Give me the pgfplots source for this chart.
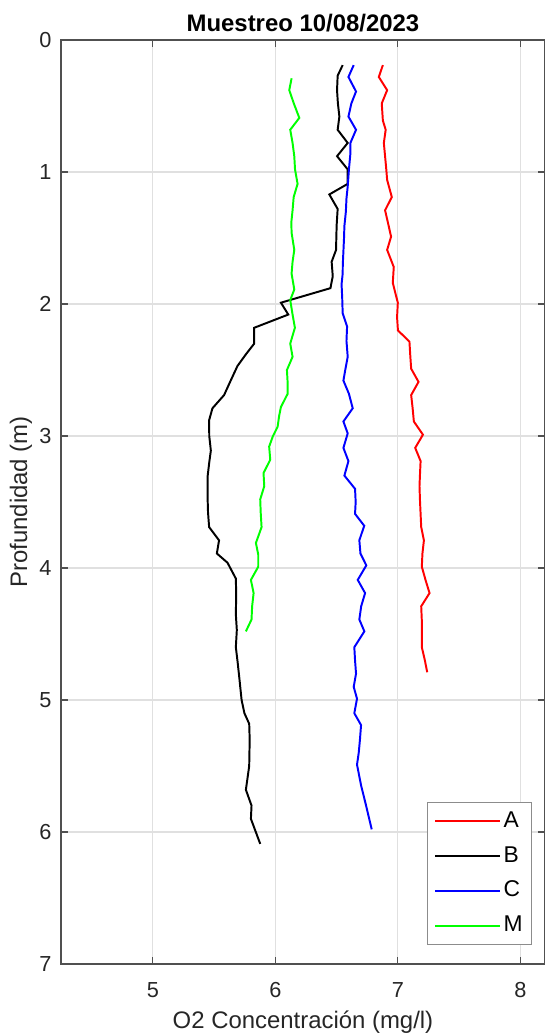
\documentclass[border=0pt]{standalone}
\usepackage{fontspec}
\setmainfont{Liberation Sans}
\usepackage{pgfplots}
\pgfplotsset{compat=1.18}
\definecolor{axgray}{RGB}{80,80,80}
\definecolor{txtgray}{RGB}{38,38,38}
\begin{document}
\begin{tikzpicture}
\begin{axis}[
  scale only axis,
  width=222.6pt, height=425pt,
  xmin=4.25, xmax=8.2, ymin=0, ymax=7,
  y dir=reverse,
  xtick={5,6,7,8}, ytick={0,1,2,3,4,5,6,7},
  grid=major,
  major grid style={color=black!12, line width=0.5pt},
  axis line style={color=axgray, line width=0.5pt},
  tick style={color=axgray, line width=0.5pt},
  tick align=inside,
  major tick length=3.2pt,
  /pgf/number format/assume math mode=true,
  tick label style={font=\fontsize{10}{12}\selectfont, text=txtgray},
  xticklabel style={anchor=base, yshift=-15.6pt},
  yticklabel style={anchor=east, xshift=-0.8pt},
  title={\bfseries Muestreo 10/08/2023},
  every axis title/.style={at={(rel axis cs:0.5,1)}, anchor=base, yshift=3.7pt, font=\fontsize{11}{13}\selectfont, text=black},
  xlabel={O2 Concentración (mg/l)},
  ylabel={Profundidad (m)},
  every axis x label/.style={at={(rel axis cs:0.5,0)}, anchor=base, yshift=-29.7pt, font=\fontsize{11}{13}\selectfont, text=txtgray},
  every axis y label/.style={at={(rel axis cs:0,0.5)}, xshift=-15.6pt, rotate=90, anchor=base, font=\fontsize{11}{13}\selectfont, text=txtgray},
  legend style={draw=black!45, line width=0.5pt, fill=white, at={(rel axis cs:0.9725,0.0206)}, anchor=south east,
    font=\fontsize{10.5}{12}\selectfont, inner sep=2.9pt, row sep=4.5pt,
    nodes={inner sep=1pt, text height=7.5pt, text depth=2pt}},
  legend cell align=left,
  legend image code/.code={\draw[#1] (0pt,0pt) -- (30pt,0pt);},
  every axis plot/.append style={line width=0.9pt},
]
\addplot[color=red] coordinates {
(6.877,0.19)(6.844,0.28)(6.912,0.38)(6.868,0.48)(6.877,0.61)(6.90,0.68)(6.885,0.78)(6.895,0.88)(6.904,0.97)(6.912,1.06)(6.95,1.19)(6.895,1.29)(6.92,1.39)(6.944,1.49)(6.912,1.59)(6.966,1.72)(6.958,1.84)(6.999,1.99)(6.993,2.10)(7.0,2.20)(7.094,2.285)(7.10,2.38)(7.108,2.49)(7.168,2.59)(7.108,2.69)(7.12,2.79)(7.13,2.89)(7.204,2.99)(7.141,3.09)(7.185,3.19)(7.18,3.29)(7.176,3.38)(7.18,3.49)(7.185,3.59)(7.19,3.69)(7.212,3.79)(7.20,3.89)(7.195,3.99)(7.225,4.09)(7.258,4.19)(7.19,4.29)(7.195,4.4)(7.195,4.5)(7.195,4.60)(7.22,4.70)(7.239,4.79)
};
\addlegendentry{A}
\addplot[color=black] coordinates {
(6.549,0.19)(6.508,0.27)(6.503,0.38)(6.51,0.48)(6.522,0.58)(6.508,0.68)(6.59,0.78)(6.503,0.88)(6.59,0.98)(6.59,1.09)(6.44,1.17)(6.508,1.28)(6.50,1.40)(6.497,1.50)(6.495,1.59)(6.459,1.68)(6.468,1.79)(6.449,1.88)(6.045,1.99)(6.105,2.08)(5.827,2.18)(5.827,2.30)(5.76,2.38)(5.69,2.47)(5.64,2.57)(5.581,2.69)(5.486,2.79)(5.459,2.88)(5.46,3.0)(5.473,3.11)(5.46,3.2)(5.446,3.31)(5.446,3.45)(5.45,3.58)(5.459,3.69)(5.54,3.79)(5.522,3.89)(5.609,3.96)(5.677,4.08)(5.68,4.2)(5.677,4.35)(5.685,4.47)(5.677,4.60)(5.69,4.7)(5.704,4.82)(5.724,5.0)(5.747,5.10)(5.786,5.18)(5.79,5.3)(5.786,5.50)(5.759,5.68)(5.805,5.80)(5.80,5.90)(5.84,6.0)(5.876,6.09)
};
\addlegendentry{B}
\addplot[color=blue] coordinates {
(6.639,0.19)(6.596,0.28)(6.658,0.39)(6.62,0.48)(6.596,0.58)(6.658,0.68)(6.612,0.78)(6.612,0.86)(6.60,0.98)(6.59,1.11)(6.58,1.2)(6.575,1.3)(6.563,1.41)(6.56,1.5)(6.555,1.6)(6.55,1.7)(6.549,1.77)(6.54,1.85)(6.545,1.95)(6.549,2.07)(6.585,2.17)(6.58,2.28)(6.59,2.40)(6.57,2.5)(6.555,2.58)(6.60,2.68)(6.631,2.79)(6.555,2.89)(6.59,2.98)(6.555,3.09)(6.596,3.19)(6.563,3.30)(6.65,3.40)(6.655,3.5)(6.65,3.59)(6.725,3.68)(6.685,3.79)(6.694,3.89)(6.742,3.98)(6.672,4.09)(6.732,4.19)(6.70,4.29)(6.685,4.39)(6.726,4.48)(6.644,4.60)(6.65,4.7)(6.658,4.80)(6.639,4.90)(6.666,4.99)(6.644,5.10)(6.699,5.19)(6.69,5.3)(6.68,5.4)(6.666,5.49)(6.70,5.65)(6.74,5.8)(6.786,5.98)
};
\addlegendentry{C}
\addplot[color=green] coordinates {
(6.132,0.29)(6.113,0.38)(6.15,0.48)(6.195,0.59)(6.121,0.68)(6.14,0.78)(6.154,0.88)(6.16,0.98)(6.181,1.09)(6.149,1.19)(6.14,1.29)(6.13,1.38)(6.132,1.46)(6.154,1.59)(6.14,1.68)(6.132,1.77)(6.154,1.89)(6.121,1.97)(6.14,2.08)(6.159,2.18)(6.121,2.30)(6.14,2.40)(6.094,2.50)(6.10,2.6)(6.10,2.68)(6.045,2.78)(6.03,2.85)(6.018,2.93)(5.98,3.0)(5.949,3.08)(5.958,3.18)(5.903,3.28)(5.909,3.38)(5.876,3.48)(5.88,3.58)(5.887,3.69)(5.841,3.81)(5.86,3.9)(5.86,3.99)(5.80,4.09)(5.822,4.19)(5.81,4.29)(5.805,4.39)(5.759,4.48)
};
\addlegendentry{M}
\end{axis}
\pgfresetboundingbox
\useasboundingbox (-28.06pt,-32.2pt) rectangle (222.45pt,443.4pt);
\end{tikzpicture}
\end{document}
